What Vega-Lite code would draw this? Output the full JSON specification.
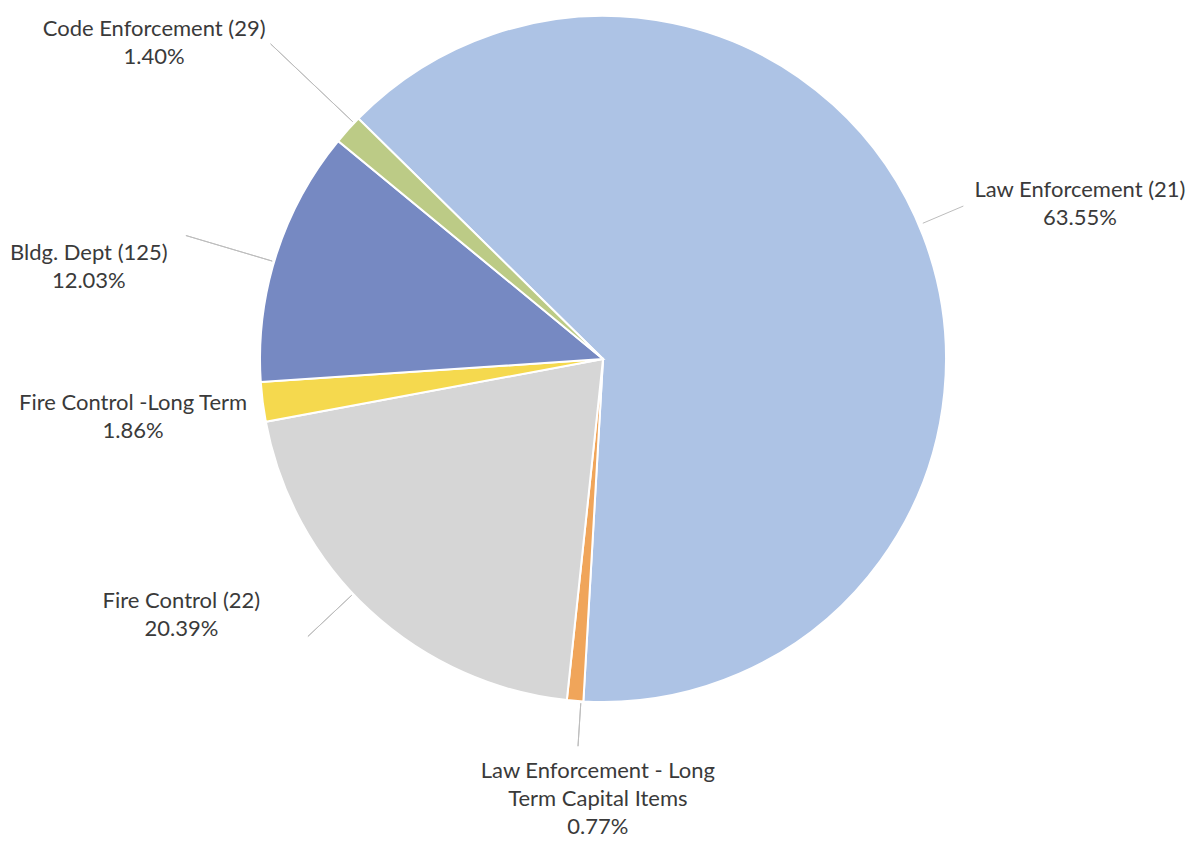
{
  "$schema": "https://vega.github.io/schema/vega-lite/v6.json",
  "width": 1186,
  "height": 718,
  "autosize": "none",
  "padding": {"left": 10, "top": 0, "right": 0, "bottom": 126},
  "background": "white",
  "config": {"view": {"stroke": null}, "text": {"font": "Lato"}},
  "data": {"values": [
    {"idx": 1, "category": "Law Enforcement (21)", "label": "Law Enforcement (21)\n63.55%", "pct": 63.55},
    {"idx": 2, "category": "Law Enforcement - Long Term Capital Items", "label": "Law Enforcement - Long\nTerm Capital Items\n0.77%", "pct": 0.77},
    {"idx": 3, "category": "Fire Control (22)", "label": "Fire Control (22)\n20.39%", "pct": 20.39},
    {"idx": 4, "category": "Fire Control -Long Term", "label": "Fire Control -Long Term\n1.86%", "pct": 1.86},
    {"idx": 5, "category": "Bldg. Dept (125)", "label": "Bldg. Dept (125)\n12.03%", "pct": 12.03},
    {"idx": 6, "category": "Code Enforcement (29)", "label": "Code Enforcement (29)\n1.40%", "pct": 1.40}
  ]},
  "encoding": {
    "theta": {"field": "pct", "type": "quantitative", "stack": true, "scale": {"domain": [0, 100], "range": [-0.7941, 5.4891]}},
    "order": {"field": "idx", "type": "quantitative"},
    "detail": {"field": "category", "type": "nominal"}
  },
  "layer": [
    {
      "mark": {"type": "arc", "outerRadius": 343, "stroke": "white", "strokeWidth": 2},
      "encoding": {
        "color": {"field": "category", "type": "nominal", "legend": null,
          "scale": {"domain": ["Law Enforcement (21)", "Law Enforcement - Long Term Capital Items", "Fire Control (22)", "Fire Control -Long Term", "Bldg. Dept (125)", "Code Enforcement (29)"],
                    "range": ["#adc3e5", "#f0a55a", "#d6d6d6", "#f5d94e", "#7689c2", "#bccb86"]}}
      }
    },
    {
      "mark": {"type": "arc", "outerRadius": 392, "innerRadius": 347, "padAngle": 3.1, "thetaOffset": 0.3927, "fillOpacity": 0, "stroke": "#bdbdbd", "strokeWidth": 1, "strokeDash": [0, 334.2, 44, 5000]},
      "encoding": {"strokeOpacity": {"condition": {"test": "datum.idx === 1", "value": 1}, "value": 0}}
    },
    {
      "mark": {"type": "arc", "outerRadius": 458, "innerRadius": 345, "padAngle": 3.1, "thetaOffset": 0.026, "fillOpacity": 0, "stroke": "#bdbdbd", "strokeWidth": 1},
      "encoding": {"strokeOpacity": {"condition": {"test": "datum.idx === 6", "value": 1}, "value": 0}}
    },
    {
      "mark": {"type": "arc", "outerRadius": 435, "innerRadius": 345, "padAngle": 3.1, "thetaOffset": -0.023, "fillOpacity": 0, "stroke": "#bdbdbd", "strokeWidth": 1},
      "encoding": {"strokeOpacity": {"condition": {"test": "datum.idx === 5", "value": 1}, "value": 0}}
    },
    {
      "mark": {"type": "arc", "outerRadius": 405, "innerRadius": 345, "padAngle": 3.1, "thetaOffset": 0.07, "fillOpacity": 0, "stroke": "#bdbdbd", "strokeWidth": 1},
      "encoding": {"strokeOpacity": {"condition": {"test": "datum.idx === 3", "value": 1}, "value": 0}}
    },
    {
      "mark": {"type": "arc", "outerRadius": 388, "innerRadius": 345, "padAngle": 3.1, "thetaOffset": -0.017, "fillOpacity": 0, "stroke": "#bdbdbd", "strokeWidth": 1},
      "encoding": {"strokeOpacity": {"condition": {"test": "datum.idx === 2", "value": 1}, "value": 0}}
    },
    {
      "mark": {"type": "text", "radius": 506, "thetaOffset": 0.028, "align": "center", "baseline": "middle", "fontSize": 22, "lineHeight": 28, "lineBreak": "\n", "color": "#3a3a3a"},
      "encoding": {"text": {"condition": {"test": "datum.idx === 1", "field": "label"}, "value": ""}}
    },
    {
      "mark": {"type": "text", "radius": 412, "thetaOffset": -0.069, "align": "center", "baseline": "middle", "fontSize": 22, "lineHeight": 28, "lineBreak": "\n", "color": "#3a3a3a"},
      "encoding": {"text": {"condition": {"test": "datum.idx === 2", "field": "label"}, "value": ""}}
    },
    {
      "mark": {"type": "text", "radius": 486, "thetaOffset": 0.304, "align": "center", "baseline": "middle", "fontSize": 22, "lineHeight": 28, "lineBreak": "\n", "color": "#3a3a3a"},
      "encoding": {"text": {"condition": {"test": "datum.idx === 3", "field": "label"}, "value": ""}}
    },
    {
      "mark": {"type": "text", "radius": 472, "thetaOffset": 0.032, "align": "center", "baseline": "middle", "fontSize": 22, "lineHeight": 28, "lineBreak": "\n", "color": "#3a3a3a"},
      "encoding": {"text": {"condition": {"test": "datum.idx === 4", "field": "label"}, "value": ""}}
    },
    {
      "mark": {"type": "text", "radius": 525, "thetaOffset": -0.1075, "align": "center", "baseline": "middle", "fontSize": 22, "lineHeight": 28, "lineBreak": "\n", "color": "#3a3a3a"},
      "encoding": {"text": {"condition": {"test": "datum.idx === 5", "field": "label"}, "value": ""}}
    },
    {
      "mark": {"type": "text", "radius": 557, "thetaOffset": -0.099, "align": "center", "baseline": "middle", "fontSize": 22, "lineHeight": 28, "lineBreak": "\n", "color": "#3a3a3a"},
      "encoding": {"text": {"condition": {"test": "datum.idx === 6", "field": "label"}, "value": ""}}
    }
  ]
}
